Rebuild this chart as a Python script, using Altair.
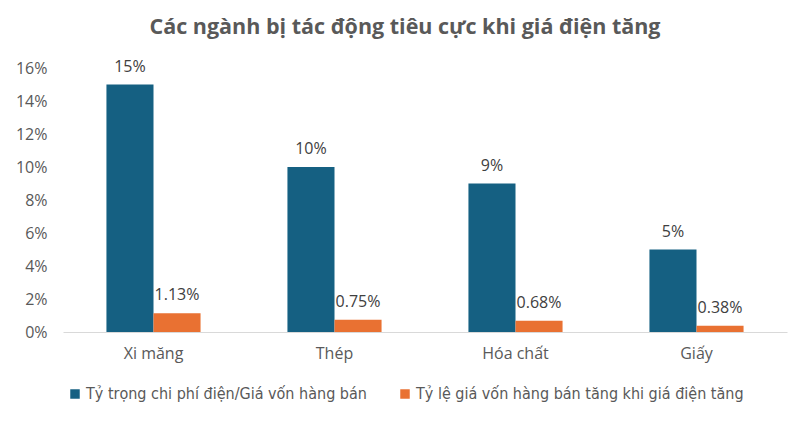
import altair as alt
import pandas as pd

categories = ["Xi măng", "Thép", "Hóa chất", "Giấy"]
series_names = ["Tỷ trọng chi phí điện/Giá vốn hàng bán",
                "Tỷ lệ giá vốn hàng bán tăng khi giá điện tăng"]
share_values = [0.15, 0.10, 0.09, 0.05]
increase_values = [0.0113, 0.0075, 0.0068, 0.0038]
y_ticks = [0, 0.02, 0.04, 0.06, 0.08, 0.10, 0.12, 0.14, 0.16]
colors = ["#156082", "#E97132"]

rows = []
for i, c in enumerate(categories):
    rows.append({"cat": c, "series": series_names[0], "value": share_values[i],
                 "label": f"{share_values[i]*100:.0f}%"})
    rows.append({"cat": c, "series": series_names[1], "value": increase_values[i],
                 "label": f"{increase_values[i]*100:.2f}%"})
df = pd.DataFrame(rows)

FONT = "Open Sans"

x = alt.X("cat:N", sort=categories, title=None,
          scale=alt.Scale(paddingInner=0.48, paddingOuter=0.24),
          axis=alt.Axis(labelAngle=0, ticks=False, grid=False, domainColor="#D9D9D9", domainWidth=1,
                        labelColor="#595959", labelFontSize=16, labelFont=FONT,
                        labelPadding=13))
xo = alt.XOffset("series:N", sort=series_names, scale=alt.Scale(paddingInner=0, paddingOuter=0))
y = alt.Y("value:Q", title=None,
          scale=alt.Scale(domain=[0, 0.16], nice=False),
          axis=alt.Axis(values=y_ticks, format=".0%", grid=False, domain=False, ticks=False,
                        labelColor="#595959", labelFontSize=16, labelFont=FONT,
                        labelPadding=16, labelOverlap=False))

base = alt.Chart(df).encode(x=x, xOffset=xo, y=y)

bars = base.mark_bar().encode(
    color=alt.Color("series:N", sort=series_names,
                    scale=alt.Scale(domain=series_names, range=colors),
                    legend=alt.Legend(title=None, orient="none", direction="horizontal",
                                      legendX=4, legendY=318,
                                      symbolType="square", symbolSize=90,
                                      symbolStrokeWidth=0,
                                      labelFont="DejaVu Sans Condensed, Liberation Sans, sans-serif",
                                      labelFontSize=16,
                                      labelColor="#595959", labelLimit=500,
                                      columnPadding=30, symbolOffset=0, labelOffset=3))
)

labels = base.mark_text(baseline="alphabetic", dy=-13, fontSize=16,
                        font=FONT, color="#404040").encode(text="label:N")

chart = alt.layer(bars, labels).properties(
    width=724, height=264,
    background="white",
    title=alt.TitleParams("Các ngành bị tác động tiêu cực khi giá điện tăng",
                          font=FONT, fontSize=21.5, fontWeight="bold", color="#595959",
                          anchor="middle", dx=-20, offset=20),
    autosize=alt.AutoSizeParams(type="none"),
    padding={"left": 55, "top": 60, "right": 14, "bottom": 84},
).configure_view(stroke=None)

chart.save("out.html", embed_options={"renderer": "svg", "actions": False})
